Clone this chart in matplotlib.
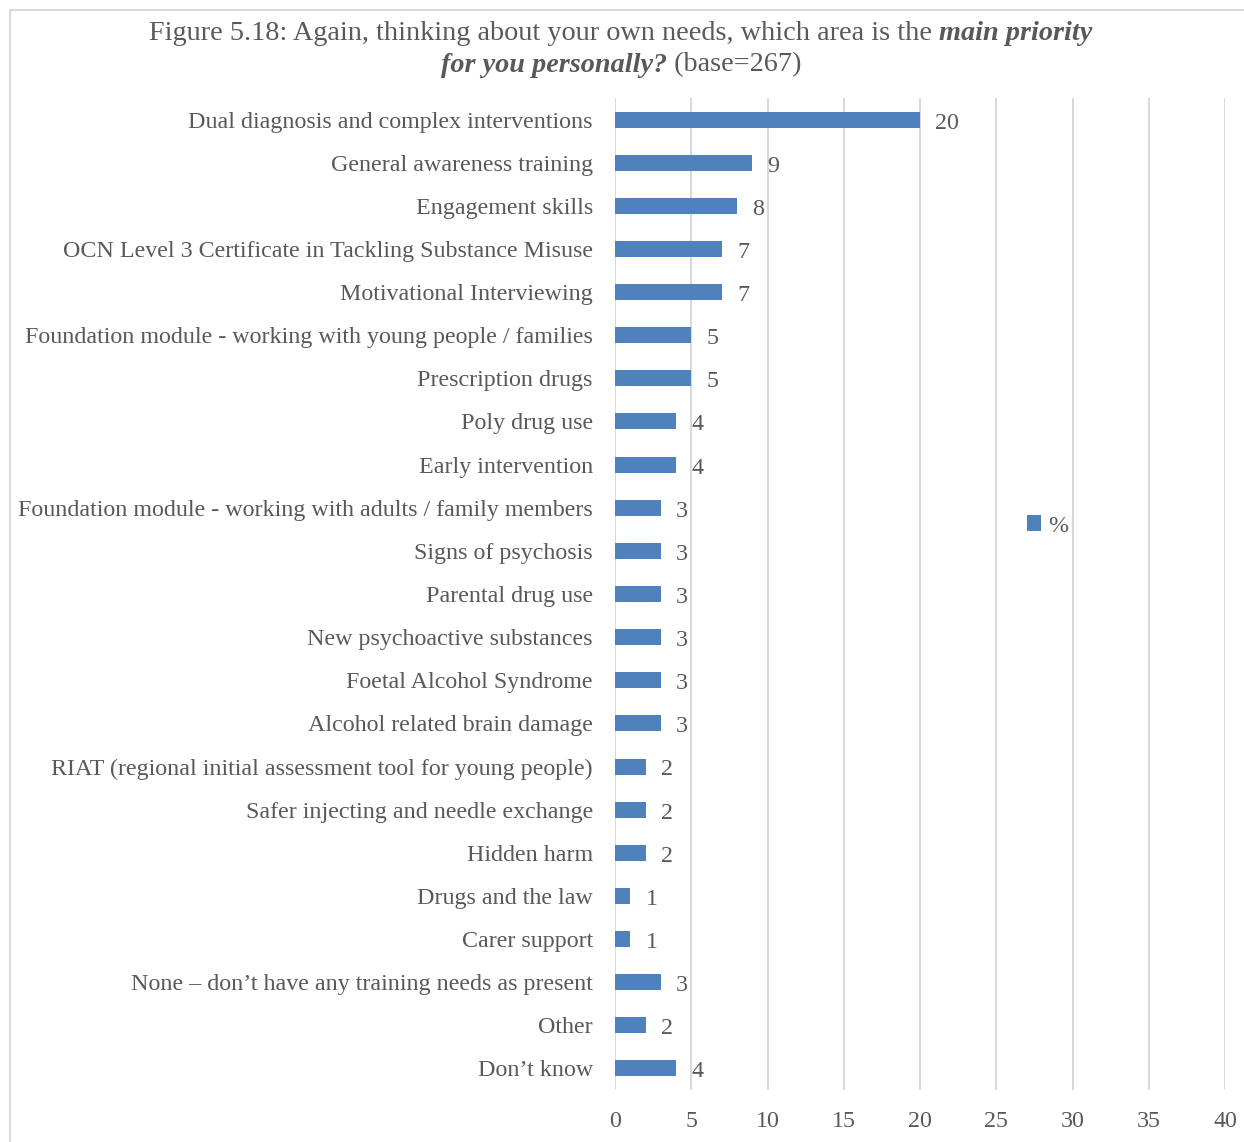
import matplotlib
matplotlib.use("Agg")
import matplotlib.pyplot as plt
from matplotlib.patches import Rectangle

# --- data ---
categories = [
    "Dual diagnosis and complex interventions",
    "General awareness training",
    "Engagement skills",
    "OCN Level 3 Certificate in Tackling Substance Misuse",
    "Motivational Interviewing",
    "Foundation module - working with young people / families",
    "Prescription drugs",
    "Poly drug use",
    "Early intervention",
    "Foundation module - working with adults / family members",
    "Signs of psychosis",
    "Parental drug use",
    "New psychoactive substances",
    "Foetal Alcohol Syndrome",
    "Alcohol related brain damage",
    "RIAT (regional initial assessment tool for young people)",
    "Safer injecting and needle exchange",
    "Hidden harm",
    "Drugs and the law",
    "Carer support",
    "None \u2013 don\u2019t have any training needs as present",
    "Other",
    "Don\u2019t know",
]
values = [20, 9, 8, 7, 7, 5, 5, 4, 4, 3, 3, 3, 3, 3, 3, 2, 2, 2, 1, 1, 3, 2, 4]
x_ticks = [0, 5, 10, 15, 20, 25, 30, 35, 40]

BLUE = "#4F81BD"
TEXT = "#595959"
GRID = "#D9D9D9"
FONT = "Liberation Serif"
FS = 17.3

plt.rcParams["font.family"] = FONT

W, H = 1244, 1142
fig = plt.figure(figsize=(W / 100, H / 100), dpi=100)

# chart border
fig.patches.append(Rectangle((10 / W, -0.05), 1.2, 1 - 10 / H + 0.05,
                             transform=fig.transFigure, fill=False,
                             edgecolor=GRID, linewidth=1.5))

ax = fig.add_axes([615 / W, 1 - 1090 / H, (1225 - 615) / W, (1090 - 98) / H])

pos = list(range(len(categories)))
ax.barh(pos, values, height=0.37, color=BLUE, label="%", zorder=3)
ax.set_ylim(len(categories) - 0.5, -0.5)
ax.set_xlim(0, 40)
ax.set_xticks(x_ticks)
ax.set_yticks(pos)
ax.set_yticklabels(categories)
ax.tick_params(axis="y", length=0, pad=16, labelsize=FS, labelcolor=TEXT)
ax.tick_params(axis="x", length=0, pad=15, labelsize=FS, labelcolor=TEXT)
ax.grid(axis="x", color=GRID, linewidth=1.5, zorder=0)
for s in ax.spines.values():
    s.set_visible(False)

for p, v in zip(pos, values):
    ax.annotate(str(v), (v, p), xytext=(11, -2.5), textcoords="offset points",
                ha="left", va="center", fontsize=FS, color=TEXT)

ax.legend(loc="center left", bbox_to_anchor=(1005 / W, 1 - 526 / H),
          bbox_transform=fig.transFigure, frameon=False, fontsize=FS,
          handlelength=0.6, handleheight=0.6, handletextpad=0.3,
          labelcolor=TEXT)

# title with mixed styles
def title_line(pieces, y):
    renderer = fig.canvas.get_renderer()
    texts = []
    for s, style, weight in pieces:
        t = fig.text(0, y, s, fontsize=20.3, color=TEXT, style=style,
                     weight=weight, va="center", ha="left")
        texts.append(t)
    widths = [t.get_window_extent(renderer).width for t in texts]
    x = 621 - sum(widths) / 2
    for t, w in zip(texts, widths):
        t.set_x(x / W)
        x += w

title_line([("Figure 5.18: Again, thinking about your own needs, which area is the ", "normal", "normal"),
            ("main priority", "italic", "bold")], 1 - 33 / H)
title_line([("for you personally?", "italic", "bold"),
            (" (base=267)", "normal", "normal")], 1 - 65 / H)

fig.savefig("out.png", dpi=100)
